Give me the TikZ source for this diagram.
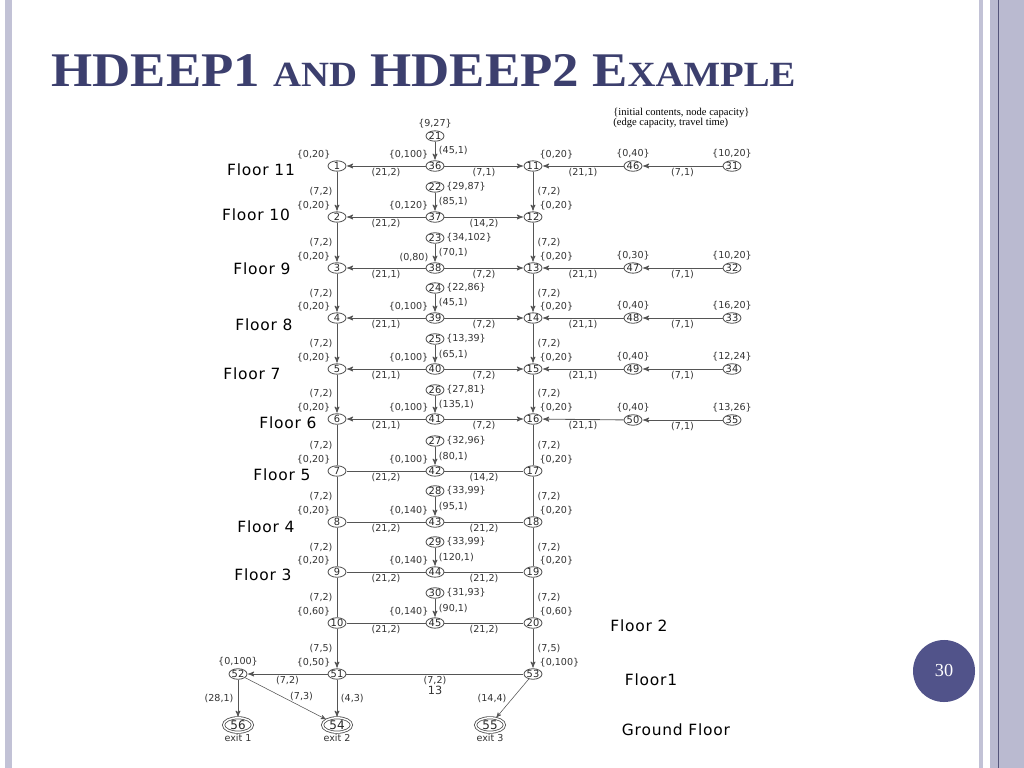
\documentclass[tikz,border=0pt]{standalone}
\usepackage{fontspec}
\usepackage{graphicx}
\usepackage{tikz}
\usetikzlibrary{arrows,shapes.geometric}

\setmainfont{DejaVu Sans}
\newfontfamily\titlefont{Liberation Serif}
\newfontfamily\floorfont[LetterSpace=5]{DejaVu Sans}

\definecolor{edgegray}{HTML}{555555}
\definecolor{titleblue}{HTML}{3C3F6E}
\definecolor{badgeblue}{HTML}{51538A}
\definecolor{framelight}{HTML}{C2C2D6}
\definecolor{framefill}{HTML}{BABAD0}
\definecolor{framedark}{HTML}{55557A}

\begin{document}
\begin{tikzpicture}
	[x=0.025cm,y=-0.025cm,->,>=stealth',shorten >=0.5pt,color=edgegray,line width=0.6pt,
		room node/.style={ellipse,draw,inner sep=0pt,minimum width=0.45cm,minimum height=0.26cm,font=\fontsize{7}{7}\selectfont,text=black!85},
		exit node/.style={ellipse,draw,double,double distance=1pt,inner sep=0pt,minimum width=0.72cm,minimum height=0.36cm,font=\fontsize{8.5}{8.5}\selectfont,text=black!85},
		num label/.style={font=\fontsize{6.8}{6.8}\selectfont,text=black!80,inner sep=1pt},
		floor label/.style={font=\floorfont\fontsize{11}{11}\selectfont,text=black}]

	\useasboundingbox (0,0) rectangle (1024,768);
	% slide frame
	\fill[framelight] (5,0) rectangle (12,768);
	\fill[framelight] (979,0) rectangle (983,768);
	\fill[framefill] (990,0) rectangle (1024,768);
	\fill[framedark] (997.5,0) rectangle (999,768);

	\node[anchor=base west,inner sep=0pt,text=titleblue] (title) at (51,87)
		{\resizebox{18.6cm}{0.8cm}{\titlefont\bfseries\fontsize{30}{30}\selectfont HDEEP1 {\fontsize{22}{22}\selectfont AND} HDEEP2 E{\fontsize{22}{22}\selectfont XAMPLE}}};
	\node[anchor=west,align=left,inner sep=0pt,text=black,font=\titlefont\fontsize{7.5}{7}\selectfont] (legend) at (613,118)
		{\{initial contents, node capacity\}\\(edge capacity, travel time)};
	\node[circle,fill=badgeblue,minimum size=1.55cm,text=white,font=\titlefont\fontsize{13}{13}\selectfont] (badge) at (944,671) {30};

	% left stair
	\node[room node,label={[num label]above left:\{0,20\}}] (n1) at (337,166) {1};
	\node[room node,label={[num label]above left:\{0,20\}}] (n2) at (337,217) {2};
	\node[room node,label={[num label]above left:\{0,20\}}] (n3) at (337,268) {3};
	\node[room node,label={[num label]above left:\{0,20\}}] (n4) at (337,318) {4};
	\node[room node,label={[num label]above left:\{0,20\}}] (n5) at (337,369) {5};
	\node[room node,label={[num label]above left:\{0,20\}}] (n6) at (337,419) {6};
	\node[room node,label={[num label]above left:\{0,20\}}] (n7) at (337,471) {7};
	\node[room node,label={[num label]above left:\{0,20\}}] (n8) at (337,522) {8};
	\node[room node,label={[num label]above left:\{0,20\}}] (n9) at (337,572) {9};
	\node[room node,label={[num label]above left:\{0,60\}}] (n10) at (337,623) {10};
	% right stair
	\node[room node,label={[num label]above right:\{0,20\}}] (n11) at (533,166) {11};
	\node[room node,label={[num label]above right:\{0,20\}}] (n12) at (533,217) {12};
	\node[room node,label={[num label]above right:\{0,20\}}] (n13) at (533,268) {13};
	\node[room node,label={[num label]above right:\{0,20\}}] (n14) at (533,318) {14};
	\node[room node,label={[num label]above right:\{0,20\}}] (n15) at (533,369) {15};
	\node[room node,label={[num label]above right:\{0,20\}}] (n16) at (533,419) {16};
	\node[room node,label={[num label]above right:\{0,20\}}] (n17) at (533,471) {17};
	\node[room node,label={[num label]above right:\{0,20\}}] (n18) at (533,522) {18};
	\node[room node,label={[num label]above right:\{0,20\}}] (n19) at (533,572) {19};
	\node[room node,label={[num label]above right:\{0,60\}}] (n20) at (533,623) {20};
	% corridors
	\node[room node,label={[num label]above left:\{0,100\}}] (n36) at (435,166) {36};
	\node[room node,label={[num label]above left:\{0,120\}}] (n37) at (435,217) {37};
	\node[room node,label={[num label]above left:(0,80)}] (n38) at (435,268) {38};
	\node[room node,label={[num label]above left:\{0,100\}}] (n39) at (435,318) {39};
	\node[room node,label={[num label]above left:\{0,100\}}] (n40) at (435,369) {40};
	\node[room node,label={[num label]above left:\{0,100\}}] (n41) at (435,419) {41};
	\node[room node,label={[num label]above left:\{0,100\}}] (n42) at (435,471) {42};
	\node[room node,label={[num label]above left:\{0,140\}}] (n43) at (435,522) {43};
	\node[room node,label={[num label]above left:\{0,140\}}] (n44) at (435,572) {44};
	\node[room node,label={[num label]above left:\{0,140\}}] (n45) at (435,623) {45};
	% rooms
	\node[room node,label={[num label]above:\{9,27\}}] (n21) at (435,136) {21};
	\node[room node,label={[num label]right:\{29,87\}}] (n22) at (435,187) {22};
	\node[room node,label={[num label]right:\{34,102\}}] (n23) at (435,238) {23};
	\node[room node,label={[num label]right:\{22,86\}}] (n24) at (435,288) {24};
	\node[room node,label={[num label]right:\{13,39\}}] (n25) at (435,339) {25};
	\node[room node,label={[num label]right:\{27,81\}}] (n26) at (435,390) {26};
	\node[room node,label={[num label]right:\{32,96\}}] (n27) at (435,441) {27};
	\node[room node,label={[num label]right:\{33,99\}}] (n28) at (435,491) {28};
	\node[room node,label={[num label]right:\{33,99\}}] (n29) at (435,542) {29};
	\node[room node,label={[num label]right:\{31,93\}}] (n30) at (435,593) {30};
	% wings
	\node[room node,label={[num label]above:\{0,40\}}] (n46) at (633,166) {46};
	\node[room node,label={[num label]above:\{0,30\}}] (n47) at (633,268) {47};
	\node[room node,label={[num label]above:\{0,40\}}] (n48) at (633,318) {48};
	\node[room node,label={[num label]above:\{0,40\}}] (n49) at (633,369) {49};
	\node[room node,label={[num label]above:\{0,40\}}] (n50) at (633,420) {50};
	\node[room node,label={[num label]above:\{10,20\}}] (n31) at (732,166) {31};
	\node[room node,label={[num label]above:\{10,20\}}] (n32) at (732,268) {32};
	\node[room node,label={[num label]above:\{16,20\}}] (n33) at (732,318) {33};
	\node[room node,label={[num label]above:\{12,24\}}] (n34) at (732,369) {34};
	\node[room node,label={[num label]above:\{13,26\}}] (n35) at (732,420) {35};
	% floor 1 and exits
	\node[room node,label={[num label]above left:\{0,50\}}] (n51) at (337,674) {51};
	\node[room node,label={[num label]above:\{0,100\}}] (n52) at (238,674) {52};
	\node[room node,label={[num label]above right:\{0,100\}}] (n53) at (533,674) {53};
	\node[exit node,label={[num label]below:exit 1}] (n56) at (238,725) {56};
	\node[exit node,label={[num label]below:exit 2}] (n54) at (337,725) {54};
	\node[exit node,label={[num label]below:exit 3}] (n55) at (490,725) {55};

	\node[floor label] (fl11) at (261,170) {Floor 11};
	\node[floor label] (fl10) at (256,215) {Floor 10};
	\node[floor label] (fl9) at (262,269) {Floor 9};
	\node[floor label] (fl8) at (264,325) {Floor 8};
	\node[floor label] (fl7) at (252,374) {Floor 7};
	\node[floor label] (fl6) at (288,423) {Floor 6};
	\node[floor label] (fl5) at (282,475) {Floor 5};
	\node[floor label] (fl4) at (266,527) {Floor 4};
	\node[floor label] (fl3) at (263,575) {Floor 3};
	\node[floor label] (fl2) at (639,626) {Floor 2};
	\node[floor label] (fl1) at (651,680) {Floor1};
	\node[floor label] (fl0) at (676,730) {Ground Floor};

	\path[]
	% floor 11
	(n21) edge node[num label,right=1.5pt] {(45,1)} (n36)
	(n36) edge node[num label,below] {(21,2)} (n1)
	(n36) edge node[num label,below] {(7,1)} (n11)
	(n46) edge node[num label,below] {(21,1)} (n11)
	(n31) edge node[num label,below] {(7,1)} (n46)
	(n1) edge node[num label,left=2pt] {(7,2)} (n2)
	(n11) edge node[num label,right=2pt] {(7,2)} (n12)
	% floor 10
	(n22) edge node[num label,right=1.5pt] {(85,1)} (n37)
	(n37) edge node[num label,below] {(21,2)} (n2)
	(n37) edge node[num label,below] {(14,2)} (n12)
	(n2) edge node[num label,left=2pt] {(7,2)} (n3)
	(n12) edge node[num label,right=2pt] {(7,2)} (n13)
	% floor 9
	(n23) edge node[num label,right=1.5pt] {(70,1)} (n38)
	(n38) edge node[num label,below] {(21,1)} (n3)
	(n38) edge node[num label,below] {(7,2)} (n13)
	(n47) edge node[num label,below] {(21,1)} (n13)
	(n32) edge node[num label,below] {(7,1)} (n47)
	(n3) edge node[num label,left=2pt] {(7,2)} (n4)
	(n13) edge node[num label,right=2pt] {(7,2)} (n14)
	% floor 8
	(n24) edge node[num label,right=1.5pt] {(45,1)} (n39)
	(n39) edge node[num label,below] {(21,1)} (n4)
	(n39) edge node[num label,below] {(7,2)} (n14)
	(n48) edge node[num label,below] {(21,1)} (n14)
	(n33) edge node[num label,below] {(7,1)} (n48)
	(n4) edge node[num label,left=2pt] {(7,2)} (n5)
	(n14) edge node[num label,right=2pt] {(7,2)} (n15)
	% floor 7
	(n25) edge node[num label,right=1.5pt] {(65,1)} (n40)
	(n40) edge node[num label,below] {(21,1)} (n5)
	(n40) edge node[num label,below] {(7,2)} (n15)
	(n49) edge node[num label,below] {(21,1)} (n15)
	(n34) edge node[num label,below] {(7,1)} (n49)
	(n5) edge node[num label,left=2pt] {(7,2)} (n6)
	(n15) edge node[num label,right=2pt] {(7,2)} (n16)
	% floor 6
	(n26) edge node[num label,right=1.5pt] {(135,1)} (n41)
	(n41) edge node[num label,below] {(21,1)} (n6)
	(n41) edge node[num label,below] {(7,2)} (n16)
	(n50) edge node[num label,below] {(21,1)} (n16)
	(n35) edge node[num label,below] {(7,1)} (n50)
	(n6) edge[-] node[num label,left=2pt] {(7,2)} (n7)
	(n16) edge[-] node[num label,right=2pt] {(7,2)} (n17)
	% floor 5
	(n27) edge node[num label,right=1.5pt] {(80,1)} (n42)
	(n42) edge[-] node[num label,below] {(21,2)} (n7)
	(n42) edge[-] node[num label,below] {(14,2)} (n17)
	(n7) edge[-] node[num label,left=2pt] {(7,2)} (n8)
	(n17) edge[-] node[num label,right=2pt] {(7,2)} (n18)
	% floor 4
	(n28) edge node[num label,right=1.5pt] {(95,1)} (n43)
	(n43) edge[-] node[num label,below] {(21,2)} (n8)
	(n43) edge[-] node[num label,below] {(21,2)} (n18)
	(n8) edge[-] node[num label,left=2pt] {(7,2)} (n9)
	(n18) edge[-] node[num label,right=2pt] {(7,2)} (n19)
	% floor 3
	(n29) edge node[num label,right=1.5pt] {(120,1)} (n44)
	(n44) edge[-] node[num label,below] {(21,2)} (n9)
	(n44) edge[-] node[num label,below] {(21,2)} (n19)
	(n9) edge[-] node[num label,left=2pt] {(7,2)} (n10)
	(n19) edge[-] node[num label,right=2pt] {(7,2)} (n20)
	% floor 2
	(n30) edge node[num label,right=1.5pt] {(90,1)} (n45)
	(n45) edge[-] node[num label,below] {(21,2)} (n10)
	(n45) edge[-] node[num label,below] {(21,2)} (n20)
	(n10) edge node[num label,left=2pt] {(7,5)} (n51)
	(n20) edge node[num label,right=2pt] {(7,5)} (n53)
	% floor 1
	(n51) edge node[num label,below] {(7,2)} (n52)
	(n51) edge[-] node[num label,below,align=center] {(7,2)\\{\fontsize{8}{8}\selectfont 13}} (n53)
	(n52) edge node[num label,left=2pt] {(28,1)} (n56)
	(n52) edge[line width=0.4pt] node[num label,above right=-1pt,pos=0.55] {(7,3)} (n54)
	(n51) edge node[num label,right=1.5pt] {(4,3)} (n54)
	(n53) edge[line width=0.4pt] node[num label,left=3pt] {(14,4)} (n55)

	;

\end{tikzpicture}
\end{document}
